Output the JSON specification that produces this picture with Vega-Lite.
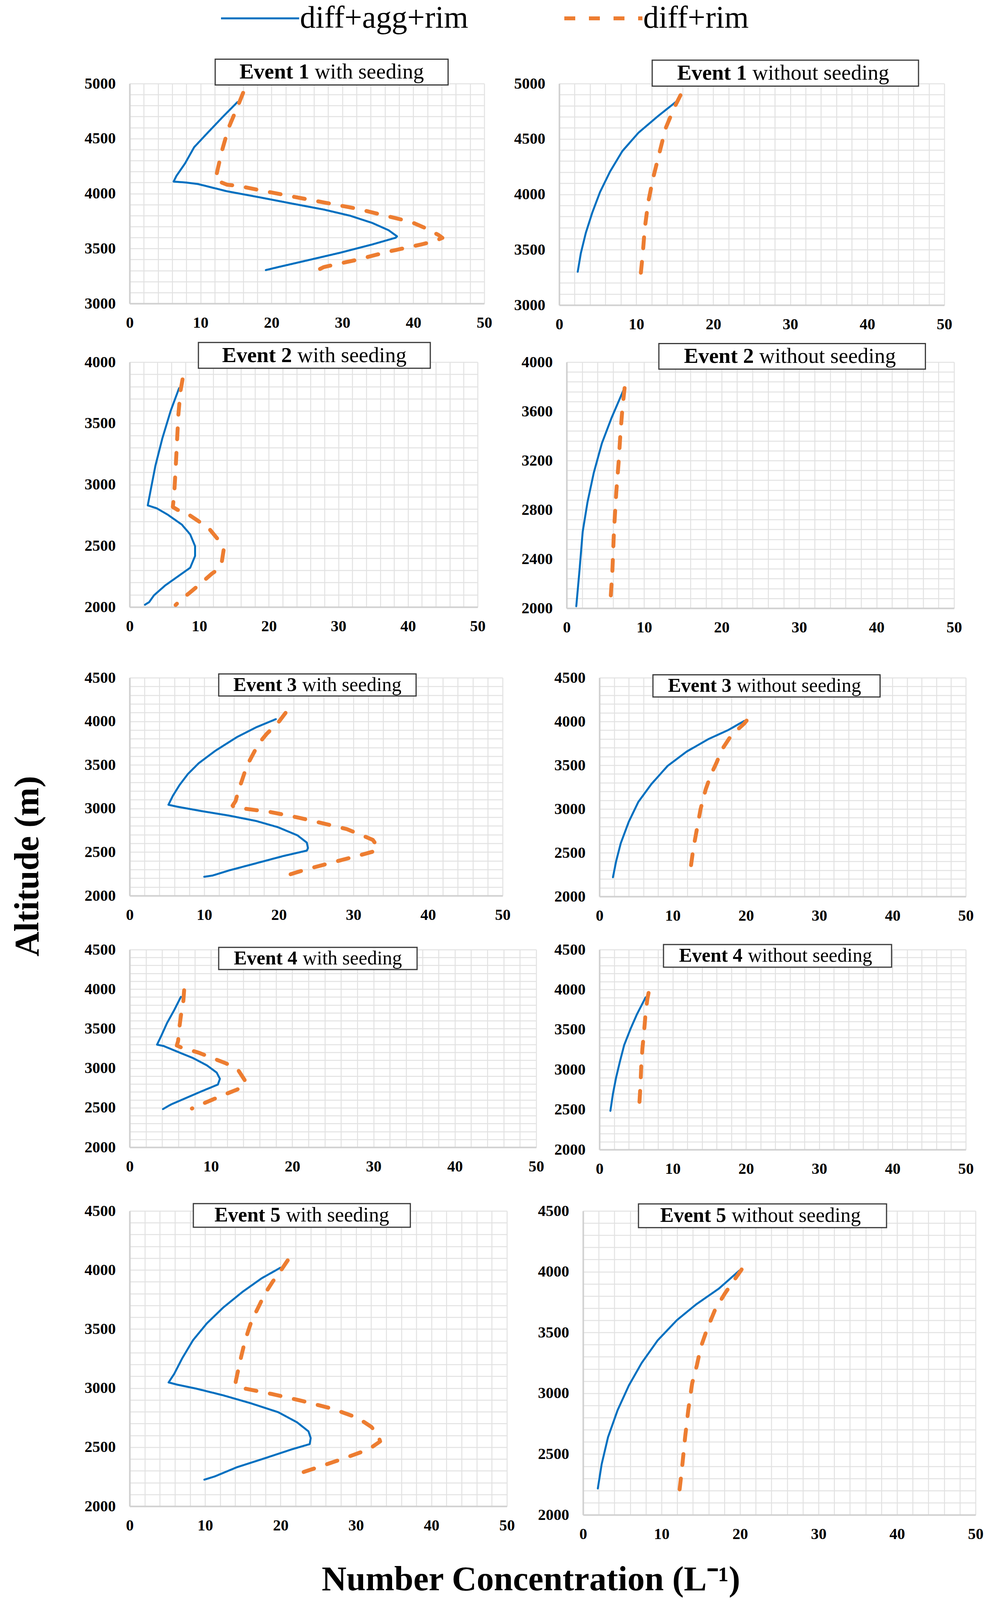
{
"$schema": "https://vega.github.io/schema/vega-lite/v6.json",
"padding": {"left": 28, "top": 7, "right": 0, "bottom": 150},
"background": "white",
"title": {"text": "Altitude (m)", "orient": "left", "anchor": "middle", "font": "Liberation Serif", "fontWeight": "bold", "fontSize": 88, "color": "#000000", "offset": 100, "dx": -170},
"config": {
  "font": "Liberation Serif",
  "view": {"stroke": null},
  "axis": {"grid": true, "gridColor": "#e2e2e2", "gridWidth": 2.5, "domain": true, "domainColor": "#d0d0d0", "domainWidth": 4, "ticks": false, "tickSize": 0, "labelFont": "Liberation Serif", "labelFontWeight": "bold", "labelFontSize": 40, "labelColor": "#000000", "labelFlush": false, "labelOverlap": false, "labelBound": false},
  "axisX": {"labelPadding": 29},
  "axisY": {"labelPadding": 36},
  "legend": {"orient": "none", "legendX": 294, "legendY": -207, "direction": "horizontal", "labelFont": "Liberation Serif", "labelFontSize": 80, "labelColor": "#000000", "labelLimit": 0, "symbolType": "M-4,0H4", "symbolSize": 2500, "labelOffset": 62, "columnPadding": 226, "padding": 0}
},
"datasets": {
  "titles": [
    {"panel": "E1S", "event": "Event 1", "cond": "with seeding"},
    {"panel": "E1N", "event": "Event 1", "cond": "without seeding"},
    {"panel": "E2S", "event": "Event 2", "cond": "with seeding"},
    {"panel": "E2N", "event": "Event 2", "cond": "without seeding"},
    {"panel": "E3S", "event": "Event 3", "cond": "with seeding"},
    {"panel": "E3N", "event": "Event 3", "cond": "without seeding"},
    {"panel": "E4S", "event": "Event 4", "cond": "with seeding"},
    {"panel": "E4N", "event": "Event 4", "cond": "without seeding"},
    {"panel": "E5S", "event": "Event 5", "cond": "with seeding"},
    {"panel": "E5N", "event": "Event 5", "cond": "without seeding"}
  ],
  "profiles": [
    {"panel":"E1S","series":"diff+agg+rim","conc":15.2,"alt":4832},
    {"panel":"E1S","series":"diff+agg+rim","conc":13.2,"alt":4702},
    {"panel":"E1S","series":"diff+agg+rim","conc":11.0,"alt":4553},
    {"panel":"E1S","series":"diff+agg+rim","conc":9.1,"alt":4422},
    {"panel":"E1S","series":"diff+agg+rim","conc":7.8,"alt":4273},
    {"panel":"E1S","series":"diff+agg+rim","conc":6.6,"alt":4161},
    {"panel":"E1S","series":"diff+agg+rim","conc":6.2,"alt":4109},
    {"panel":"E1S","series":"diff+agg+rim","conc":8.0,"alt":4100},
    {"panel":"E1S","series":"diff+agg+rim","conc":9.6,"alt":4087},
    {"panel":"E1S","series":"diff+agg+rim","conc":13.7,"alt":4021},
    {"panel":"E1S","series":"diff+agg+rim","conc":18.3,"alt":3966},
    {"panel":"E1S","series":"diff+agg+rim","conc":22.8,"alt":3910},
    {"panel":"E1S","series":"diff+agg+rim","conc":27.4,"alt":3854},
    {"panel":"E1S","series":"diff+agg+rim","conc":31.1,"alt":3798},
    {"panel":"E1S","series":"diff+agg+rim","conc":34.2,"alt":3733},
    {"panel":"E1S","series":"diff+agg+rim","conc":36.5,"alt":3667},
    {"panel":"E1S","series":"diff+agg+rim","conc":37.7,"alt":3611},
    {"panel":"E1S","series":"diff+agg+rim","conc":37.5,"alt":3598},
    {"panel":"E1S","series":"diff+agg+rim","conc":34.2,"alt":3537},
    {"panel":"E1S","series":"diff+agg+rim","conc":29.7,"alt":3462},
    {"panel":"E1S","series":"diff+agg+rim","conc":25.1,"alt":3393},
    {"panel":"E1S","series":"diff+agg+rim","conc":21.0,"alt":3332},
    {"panel":"E1S","series":"diff+agg+rim","conc":19.2,"alt":3304},
    {"panel":"E1S","series":"diff+rim","conc":16.0,"alt":4916},
    {"panel":"E1S","series":"diff+rim","conc":15.3,"alt":4804},
    {"panel":"E1S","series":"diff+rim","conc":13.9,"alt":4590},
    {"panel":"E1S","series":"diff+rim","conc":13.0,"alt":4385},
    {"panel":"E1S","series":"diff+rim","conc":12.4,"alt":4217},
    {"panel":"E1S","series":"diff+rim","conc":12.1,"alt":4124},
    {"panel":"E1S","series":"diff+rim","conc":13.7,"alt":4081},
    {"panel":"E1S","series":"diff+rim","conc":15.5,"alt":4068},
    {"panel":"E1S","series":"diff+rim","conc":18.3,"alt":4031},
    {"panel":"E1S","series":"diff+rim","conc":22.8,"alt":3975},
    {"panel":"E1S","series":"diff+rim","conc":27.4,"alt":3919},
    {"panel":"E1S","series":"diff+rim","conc":32.0,"alt":3863},
    {"panel":"E1S","series":"diff+rim","conc":36.5,"alt":3792},
    {"panel":"E1S","series":"diff+rim","conc":39.7,"alt":3742},
    {"panel":"E1S","series":"diff+rim","conc":42.0,"alt":3677},
    {"panel":"E1S","series":"diff+rim","conc":43.6,"alt":3621},
    {"panel":"E1S","series":"diff+rim","conc":44.1,"alt":3597},
    {"panel":"E1S","series":"diff+rim","conc":42.9,"alt":3565},
    {"panel":"E1S","series":"diff+rim","conc":41.1,"alt":3537},
    {"panel":"E1S","series":"diff+rim","conc":36.5,"alt":3472},
    {"panel":"E1S","series":"diff+rim","conc":32.0,"alt":3397},
    {"panel":"E1S","series":"diff+rim","conc":27.4,"alt":3332},
    {"panel":"E1S","series":"diff+rim","conc":26.5,"alt":3304},
    {"panel":"E1N","series":"diff+agg+rim","conc":2.4,"alt":3301},
    {"panel":"E1N","series":"diff+agg+rim","conc":2.8,"alt":3467},
    {"panel":"E1N","series":"diff+agg+rim","conc":3.45,"alt":3652},
    {"panel":"E1N","series":"diff+agg+rim","conc":4.3,"alt":3837},
    {"panel":"E1N","series":"diff+agg+rim","conc":5.3,"alt":4021},
    {"panel":"E1N","series":"diff+agg+rim","conc":6.6,"alt":4206},
    {"panel":"E1N","series":"diff+agg+rim","conc":8.2,"alt":4391},
    {"panel":"E1N","series":"diff+agg+rim","conc":10.3,"alt":4557},
    {"panel":"E1N","series":"diff+agg+rim","conc":12.8,"alt":4705},
    {"panel":"E1N","series":"diff+agg+rim","conc":15.3,"alt":4843},
    {"panel":"E1N","series":"diff+rim","conc":10.6,"alt":3292},
    {"panel":"E1N","series":"diff+rim","conc":10.85,"alt":3467},
    {"panel":"E1N","series":"diff+rim","conc":11.1,"alt":3689},
    {"panel":"E1N","series":"diff+rim","conc":11.55,"alt":3929},
    {"panel":"E1N","series":"diff+rim","conc":12.2,"alt":4150},
    {"panel":"E1N","series":"diff+rim","conc":13.0,"alt":4372},
    {"panel":"E1N","series":"diff+rim","conc":13.8,"alt":4594},
    {"panel":"E1N","series":"diff+rim","conc":14.9,"alt":4778},
    {"panel":"E1N","series":"diff+rim","conc":15.9,"alt":4917},
    {"panel":"E2S","series":"diff+agg+rim","conc":7.1,"alt":3787},
    {"panel":"E2S","series":"diff+agg+rim","conc":5.9,"alt":3603},
    {"panel":"E2S","series":"diff+agg+rim","conc":4.7,"alt":3378},
    {"panel":"E2S","series":"diff+agg+rim","conc":3.7,"alt":3154},
    {"panel":"E2S","series":"diff+agg+rim","conc":3.1,"alt":2978},
    {"panel":"E2S","series":"diff+agg+rim","conc":2.6,"alt":2830},
    {"panel":"E2S","series":"diff+agg+rim","conc":3.9,"alt":2806},
    {"panel":"E2S","series":"diff+agg+rim","conc":5.5,"alt":2753},
    {"panel":"E2S","series":"diff+agg+rim","conc":7.5,"alt":2673},
    {"panel":"E2S","series":"diff+agg+rim","conc":8.7,"alt":2593},
    {"panel":"E2S","series":"diff+agg+rim","conc":9.4,"alt":2497},
    {"panel":"E2S","series":"diff+agg+rim","conc":9.4,"alt":2417},
    {"panel":"E2S","series":"diff+agg+rim","conc":8.7,"alt":2321},
    {"panel":"E2S","series":"diff+agg+rim","conc":5.1,"alt":2176},
    {"panel":"E2S","series":"diff+agg+rim","conc":3.5,"alt":2096},
    {"panel":"E2S","series":"diff+agg+rim","conc":2.8,"alt":2040},
    {"panel":"E2S","series":"diff+agg+rim","conc":2.2,"alt":2019},
    {"panel":"E2S","series":"diff+rim","conc":7.6,"alt":3859},
    {"panel":"E2S","series":"diff+rim","conc":7.3,"alt":3763},
    {"panel":"E2S","series":"diff+rim","conc":7.0,"alt":3571},
    {"panel":"E2S","series":"diff+rim","conc":6.8,"alt":3346},
    {"panel":"E2S","series":"diff+rim","conc":6.6,"alt":3122},
    {"panel":"E2S","series":"diff+rim","conc":6.4,"alt":2921},
    {"panel":"E2S","series":"diff+rim","conc":6.2,"alt":2817},
    {"panel":"E2S","series":"diff+rim","conc":6.9,"alt":2793},
    {"panel":"E2S","series":"diff+rim","conc":7.9,"alt":2777},
    {"panel":"E2S","series":"diff+rim","conc":9.8,"alt":2705},
    {"panel":"E2S","series":"diff+rim","conc":11.4,"alt":2641},
    {"panel":"E2S","series":"diff+rim","conc":12.8,"alt":2545},
    {"panel":"E2S","series":"diff+rim","conc":13.5,"alt":2465},
    {"panel":"E2S","series":"diff+rim","conc":13.2,"alt":2353},
    {"panel":"E2S","series":"diff+rim","conc":12.6,"alt":2304},
    {"panel":"E2S","series":"diff+rim","conc":11.8,"alt":2272},
    {"panel":"E2S","series":"diff+rim","conc":10.2,"alt":2192},
    {"panel":"E2S","series":"diff+rim","conc":8.7,"alt":2120},
    {"panel":"E2S","series":"diff+rim","conc":7.3,"alt":2056},
    {"panel":"E2S","series":"diff+rim","conc":6.6,"alt":2016},
    {"panel":"E2N","series":"diff+agg+rim","conc":1.24,"alt":2016},
    {"panel":"E2N","series":"diff+agg+rim","conc":1.65,"alt":2303},
    {"panel":"E2N","series":"diff+agg+rim","conc":2.07,"alt":2622},
    {"panel":"E2N","series":"diff+agg+rim","conc":2.69,"alt":2862},
    {"panel":"E2N","series":"diff+agg+rim","conc":3.5,"alt":3101},
    {"panel":"E2N","series":"diff+agg+rim","conc":4.55,"alt":3341},
    {"panel":"E2N","series":"diff+agg+rim","conc":5.8,"alt":3548},
    {"panel":"E2N","series":"diff+agg+rim","conc":7.44,"alt":3788},
    {"panel":"E2N","series":"diff+rim","conc":5.7,"alt":2104},
    {"panel":"E2N","series":"diff+rim","conc":5.9,"alt":2303},
    {"panel":"E2N","series":"diff+rim","conc":6.1,"alt":2622},
    {"panel":"E2N","series":"diff+rim","conc":6.4,"alt":2941},
    {"panel":"E2N","series":"diff+rim","conc":6.7,"alt":3181},
    {"panel":"E2N","series":"diff+rim","conc":6.94,"alt":3420},
    {"panel":"E2N","series":"diff+rim","conc":7.2,"alt":3628},
    {"panel":"E2N","series":"diff+rim","conc":7.6,"alt":3860},
    {"panel":"E3S","series":"diff+agg+rim","conc":19.6,"alt":4025},
    {"panel":"E3S","series":"diff+agg+rim","conc":17.0,"alt":3933},
    {"panel":"E3S","series":"diff+agg+rim","conc":14.4,"alt":3820},
    {"panel":"E3S","series":"diff+agg+rim","conc":11.5,"alt":3663},
    {"panel":"E3S","series":"diff+agg+rim","conc":9.25,"alt":3519},
    {"panel":"E3S","series":"diff+agg+rim","conc":7.8,"alt":3395},
    {"panel":"E3S","series":"diff+agg+rim","conc":6.7,"alt":3271},
    {"panel":"E3S","series":"diff+agg+rim","conc":5.8,"alt":3147},
    {"panel":"E3S","series":"diff+agg+rim","conc":5.2,"alt":3043},
    {"panel":"E3S","series":"diff+agg+rim","conc":6.3,"alt":3022},
    {"panel":"E3S","series":"diff+agg+rim","conc":9.6,"alt":2971},
    {"panel":"E3S","series":"diff+agg+rim","conc":13.3,"alt":2919},
    {"panel":"E3S","series":"diff+agg+rim","conc":16.96,"alt":2857},
    {"panel":"E3S","series":"diff+agg+rim","conc":19.9,"alt":2785},
    {"panel":"E3S","series":"diff+agg+rim","conc":22.5,"alt":2692},
    {"panel":"E3S","series":"diff+agg+rim","conc":23.75,"alt":2609},
    {"panel":"E3S","series":"diff+agg+rim","conc":23.9,"alt":2547},
    {"panel":"E3S","series":"diff+agg+rim","conc":23.75,"alt":2517},
    {"panel":"E3S","series":"diff+agg+rim","conc":20.6,"alt":2455},
    {"panel":"E3S","series":"diff+agg+rim","conc":16.96,"alt":2372},
    {"panel":"E3S","series":"diff+agg+rim","conc":13.3,"alt":2289},
    {"panel":"E3S","series":"diff+agg+rim","conc":11.1,"alt":2231},
    {"panel":"E3S","series":"diff+agg+rim","conc":10.0,"alt":2217},
    {"panel":"E3S","series":"diff+rim","conc":20.9,"alt":4097},
    {"panel":"E3S","series":"diff+rim","conc":19.9,"alt":3983},
    {"panel":"E3S","series":"diff+rim","conc":18.4,"alt":3859},
    {"panel":"E3S","series":"diff+rim","conc":17.3,"alt":3746},
    {"panel":"E3S","series":"diff+rim","conc":16.4,"alt":3601},
    {"panel":"E3S","series":"diff+rim","conc":15.7,"alt":3488},
    {"panel":"E3S","series":"diff+rim","conc":15.1,"alt":3333},
    {"panel":"E3S","series":"diff+rim","conc":14.6,"alt":3209},
    {"panel":"E3S","series":"diff+rim","conc":14.2,"alt":3085},
    {"panel":"E3S","series":"diff+rim","conc":13.8,"alt":3033},
    {"panel":"E3S","series":"diff+rim","conc":14.0,"alt":3012},
    {"panel":"E3S","series":"diff+rim","conc":15.1,"alt":3002},
    {"panel":"E3S","series":"diff+rim","conc":18.8,"alt":2961},
    {"panel":"E3S","series":"diff+rim","conc":22.5,"alt":2898},
    {"panel":"E3S","series":"diff+rim","conc":26.1,"alt":2826},
    {"panel":"E3S","series":"diff+rim","conc":29.1,"alt":2764},
    {"panel":"E3S","series":"diff+rim","conc":30.9,"alt":2702},
    {"panel":"E3S","series":"diff+rim","conc":32.6,"alt":2640},
    {"panel":"E3S","series":"diff+rim","conc":33.2,"alt":2568},
    {"panel":"E3S","series":"diff+rim","conc":33.1,"alt":2517},
    {"panel":"E3S","series":"diff+rim","conc":30.9,"alt":2465},
    {"panel":"E3S","series":"diff+rim","conc":27.2,"alt":2382},
    {"panel":"E3S","series":"diff+rim","conc":23.6,"alt":2300},
    {"panel":"E3S","series":"diff+rim","conc":21.4,"alt":2242},
    {"panel":"E3N","series":"diff+agg+rim","conc":1.84,"alt":2220},
    {"panel":"E3N","series":"diff+agg+rim","conc":2.27,"alt":2401},
    {"panel":"E3N","series":"diff+agg+rim","conc":2.9,"alt":2607},
    {"panel":"E3N","series":"diff+agg+rim","conc":4.0,"alt":2854},
    {"panel":"E3N","series":"diff+agg+rim","conc":5.3,"alt":3080},
    {"panel":"E3N","series":"diff+agg+rim","conc":7.1,"alt":3286},
    {"panel":"E3N","series":"diff+agg+rim","conc":9.3,"alt":3492},
    {"panel":"E3N","series":"diff+agg+rim","conc":11.9,"alt":3656},
    {"panel":"E3N","series":"diff+agg+rim","conc":14.9,"alt":3800},
    {"panel":"E3N","series":"diff+agg+rim","conc":17.6,"alt":3903},
    {"panel":"E3N","series":"diff+agg+rim","conc":19.75,"alt":4006},
    {"panel":"E3N","series":"diff+rim","conc":12.5,"alt":2358},
    {"panel":"E3N","series":"diff+rim","conc":12.8,"alt":2543},
    {"panel":"E3N","series":"diff+rim","conc":13.3,"alt":2770},
    {"panel":"E3N","series":"diff+rim","conc":13.8,"alt":2998},
    {"panel":"E3N","series":"diff+rim","conc":14.5,"alt":3224},
    {"panel":"E3N","series":"diff+rim","conc":15.2,"alt":3389},
    {"panel":"E3N","series":"diff+rim","conc":16.0,"alt":3533},
    {"panel":"E3N","series":"diff+rim","conc":16.7,"alt":3677},
    {"panel":"E3N","series":"diff+rim","conc":18.0,"alt":3842},
    {"panel":"E3N","series":"diff+rim","conc":19.75,"alt":3976},
    {"panel":"E3N","series":"diff+rim","conc":20.8,"alt":4084},
    {"panel":"E4S","series":"diff+agg+rim","conc":6.3,"alt":3902},
    {"panel":"E4S","series":"diff+agg+rim","conc":5.46,"alt":3731},
    {"panel":"E4S","series":"diff+agg+rim","conc":4.6,"alt":3572},
    {"panel":"E4S","series":"diff+agg+rim","conc":3.9,"alt":3412},
    {"panel":"E4S","series":"diff+agg+rim","conc":3.37,"alt":3298},
    {"panel":"E4S","series":"diff+agg+rim","conc":4.2,"alt":3280},
    {"panel":"E4S","series":"diff+agg+rim","conc":5.8,"alt":3212},
    {"panel":"E4S","series":"diff+agg+rim","conc":7.8,"alt":3128},
    {"panel":"E4S","series":"diff+agg+rim","conc":9.5,"alt":3036},
    {"panel":"E4S","series":"diff+agg+rim","conc":10.7,"alt":2945},
    {"panel":"E4S","series":"diff+agg+rim","conc":11.1,"alt":2866},
    {"panel":"E4S","series":"diff+agg+rim","conc":10.85,"alt":2793},
    {"panel":"E4S","series":"diff+agg+rim","conc":8.8,"alt":2706},
    {"panel":"E4S","series":"diff+agg+rim","conc":6.5,"alt":2604},
    {"panel":"E4S","series":"diff+agg+rim","conc":5.1,"alt":2542},
    {"panel":"E4S","series":"diff+agg+rim","conc":4.1,"alt":2483},
    {"panel":"E4S","series":"diff+rim","conc":6.7,"alt":3986},
    {"panel":"E4S","series":"diff+rim","conc":6.6,"alt":3845},
    {"panel":"E4S","series":"diff+rim","conc":6.3,"alt":3663},
    {"panel":"E4S","series":"diff+rim","conc":6.1,"alt":3503},
    {"panel":"E4S","series":"diff+rim","conc":5.96,"alt":3344},
    {"panel":"E4S","series":"diff+rim","conc":5.8,"alt":3287},
    {"panel":"E4S","series":"diff+rim","conc":6.3,"alt":3264},
    {"panel":"E4S","series":"diff+rim","conc":8.5,"alt":3196},
    {"panel":"E4S","series":"diff+rim","conc":10.2,"alt":3128},
    {"panel":"E4S","series":"diff+rim","conc":11.9,"alt":3059},
    {"panel":"E4S","series":"diff+rim","conc":13.4,"alt":2968},
    {"panel":"E4S","series":"diff+rim","conc":14.3,"alt":2825},
    {"panel":"E4S","series":"diff+rim","conc":14.05,"alt":2779},
    {"panel":"E4S","series":"diff+rim","conc":13.2,"alt":2729},
    {"panel":"E4S","series":"diff+rim","conc":11.4,"alt":2656},
    {"panel":"E4S","series":"diff+rim","conc":9.7,"alt":2581},
    {"panel":"E4S","series":"diff+rim","conc":7.65,"alt":2490},
    {"panel":"E4N","series":"diff+agg+rim","conc":1.49,"alt":2484},
    {"panel":"E4N","series":"diff+agg+rim","conc":1.84,"alt":2698},
    {"panel":"E4N","series":"diff+agg+rim","conc":2.27,"alt":2901},
    {"panel":"E4N","series":"diff+agg+rim","conc":2.8,"alt":3104},
    {"panel":"E4N","series":"diff+agg+rim","conc":3.37,"alt":3306},
    {"panel":"E4N","series":"diff+agg+rim","conc":4.24,"alt":3509},
    {"panel":"E4N","series":"diff+agg+rim","conc":5.1,"alt":3689},
    {"panel":"E4N","series":"diff+agg+rim","conc":6.3,"alt":3903},
    {"panel":"E4N","series":"diff+rim","conc":5.46,"alt":2597},
    {"panel":"E4N","series":"diff+rim","conc":5.6,"alt":2811},
    {"panel":"E4N","series":"diff+rim","conc":5.7,"alt":3036},
    {"panel":"E4N","series":"diff+rim","conc":5.86,"alt":3261},
    {"panel":"E4N","series":"diff+rim","conc":6.1,"alt":3486},
    {"panel":"E4N","series":"diff+rim","conc":6.3,"alt":3712},
    {"panel":"E4N","series":"diff+rim","conc":6.55,"alt":3892},
    {"panel":"E4N","series":"diff+rim","conc":6.8,"alt":4000},
    {"panel":"E5S","series":"diff+agg+rim","conc":19.97,"alt":4019},
    {"panel":"E5S","series":"diff+agg+rim","conc":17.5,"alt":3930},
    {"panel":"E5S","series":"diff+agg+rim","conc":14.96,"alt":3815},
    {"panel":"E5S","series":"diff+agg+rim","conc":12.4,"alt":3682},
    {"panel":"E5S","series":"diff+agg+rim","conc":10.24,"alt":3549},
    {"panel":"E5S","series":"diff+agg+rim","conc":8.4,"alt":3406},
    {"panel":"E5S","series":"diff+agg+rim","conc":6.97,"alt":3253},
    {"panel":"E5S","series":"diff+agg+rim","conc":5.9,"alt":3120},
    {"panel":"E5S","series":"diff+agg+rim","conc":5.16,"alt":3048},
    {"panel":"E5S","series":"diff+agg+rim","conc":6.25,"alt":3030},
    {"panel":"E5S","series":"diff+agg+rim","conc":8.8,"alt":2996},
    {"panel":"E5S","series":"diff+agg+rim","conc":12.4,"alt":2939},
    {"panel":"E5S","series":"diff+agg+rim","conc":16.05,"alt":2872},
    {"panel":"E5S","series":"diff+agg+rim","conc":19.7,"alt":2796},
    {"panel":"E5S","series":"diff+agg+rim","conc":22.2,"alt":2710},
    {"panel":"E5S","series":"diff+agg+rim","conc":23.7,"alt":2634},
    {"panel":"E5S","series":"diff+agg+rim","conc":24.0,"alt":2577},
    {"panel":"E5S","series":"diff+agg+rim","conc":23.86,"alt":2526},
    {"panel":"E5S","series":"diff+agg+rim","conc":21.5,"alt":2482},
    {"panel":"E5S","series":"diff+agg+rim","conc":17.9,"alt":2406},
    {"panel":"E5S","series":"diff+agg+rim","conc":14.2,"alt":2330},
    {"panel":"E5S","series":"diff+agg+rim","conc":11.3,"alt":2253},
    {"panel":"E5S","series":"diff+agg+rim","conc":9.9,"alt":2225},
    {"panel":"E5S","series":"diff+rim","conc":20.95,"alt":4082},
    {"panel":"E5S","series":"diff+rim","conc":20.04,"alt":3996},
    {"panel":"E5S","series":"diff+rim","conc":18.95,"alt":3901},
    {"panel":"E5S","series":"diff+rim","conc":17.9,"alt":3796},
    {"panel":"E5S","series":"diff+rim","conc":16.96,"alt":3672},
    {"panel":"E5S","series":"diff+rim","conc":16.2,"alt":3577},
    {"panel":"E5S","series":"diff+rim","conc":15.7,"alt":3482},
    {"panel":"E5S","series":"diff+rim","conc":15.2,"alt":3377},
    {"panel":"E5S","series":"diff+rim","conc":14.8,"alt":3272},
    {"panel":"E5S","series":"diff+rim","conc":14.4,"alt":3158},
    {"panel":"E5S","series":"diff+rim","conc":14.05,"alt":3053},
    {"panel":"E5S","series":"diff+rim","conc":14.2,"alt":3015},
    {"panel":"E5S","series":"diff+rim","conc":15.3,"alt":2996},
    {"panel":"E5S","series":"diff+rim","conc":18.95,"alt":2949},
    {"panel":"E5S","series":"diff+rim","conc":22.9,"alt":2891},
    {"panel":"E5S","series":"diff+rim","conc":26.9,"alt":2825},
    {"panel":"E5S","series":"diff+rim","conc":30.2,"alt":2749},
    {"panel":"E5S","series":"diff+rim","conc":32.03,"alt":2672},
    {"panel":"E5S","series":"diff+rim","conc":32.9,"alt":2606},
    {"panel":"E5S","series":"diff+rim","conc":33.2,"alt":2549},
    {"panel":"E5S","series":"diff+rim","conc":31.7,"alt":2482},
    {"panel":"E5S","series":"diff+rim","conc":28.0,"alt":2396},
    {"panel":"E5S","series":"diff+rim","conc":24.0,"alt":2310},
    {"panel":"E5S","series":"diff+rim","conc":22.0,"alt":2267},
    {"panel":"E5N","series":"diff+agg+rim","conc":1.88,"alt":2217},
    {"panel":"E5N","series":"diff+agg+rim","conc":2.37,"alt":2417},
    {"panel":"E5N","series":"diff+agg+rim","conc":3.18,"alt":2639},
    {"panel":"E5N","series":"diff+agg+rim","conc":4.4,"alt":2861},
    {"panel":"E5N","series":"diff+agg+rim","conc":5.84,"alt":3065},
    {"panel":"E5N","series":"diff+agg+rim","conc":7.47,"alt":3250},
    {"panel":"E5N","series":"diff+agg+rim","conc":9.5,"alt":3435},
    {"panel":"E5N","series":"diff+agg+rim","conc":11.96,"alt":3602},
    {"panel":"E5N","series":"diff+agg+rim","conc":14.4,"alt":3731},
    {"panel":"E5N","series":"diff+agg+rim","conc":17.3,"alt":3861},
    {"panel":"E5N","series":"diff+agg+rim","conc":19.9,"alt":4009},
    {"panel":"E5N","series":"diff+rim","conc":12.3,"alt":2209},
    {"panel":"E5N","series":"diff+rim","conc":12.6,"alt":2380},
    {"panel":"E5N","series":"diff+rim","conc":13.0,"alt":2639},
    {"panel":"E5N","series":"diff+rim","conc":13.4,"alt":2861},
    {"panel":"E5N","series":"diff+rim","conc":13.9,"alt":3083},
    {"panel":"E5N","series":"diff+rim","conc":14.5,"alt":3231},
    {"panel":"E5N","series":"diff+rim","conc":15.0,"alt":3380},
    {"panel":"E5N","series":"diff+rim","conc":15.8,"alt":3528},
    {"panel":"E5N","series":"diff+rim","conc":16.86,"alt":3694},
    {"panel":"E5N","series":"diff+rim","conc":18.1,"alt":3824},
    {"panel":"E5N","series":"diff+rim","conc":19.9,"alt":3991},
    {"panel":"E5N","series":"diff+rim","conc":20.9,"alt":4083}
  ]
},
"spacing": 67,
"vconcat": [
 {"spacing": 89, "vconcat": [
  {"spacing": 25, "vconcat": [
   {"bounds": "flush", "spacing": 192, "hconcat": [
    {"width": 908, "height": 563, "layer": [
      {"data": {"name": "profiles"}, "transform": [{"filter": "datum.panel === 'E1S'"}],
       "mark": {"type": "line", "strokeCap": "round", "strokeJoin": "round"},
       "encoding": {
         "x": {"field": "conc", "type": "quantitative", "scale": {"domain": [0, 50], "nice": false, "zero": false}, "axis": {"title": null, "tickCount": 200, "labelOverlap": false, "format": "d", "values": [0,2,4,6,8,10,12,14,16,18,20,22,24,26,28,30,32,34,36,38,40,42,44,46,48,50], "labelExpr": "datum.value % 10 === 0 ? datum.label : ''"}},
         "y": {"field": "alt", "type": "quantitative", "scale": {"domain": [3000, 5000], "nice": false, "zero": false}, "axis": {"title": null, "tickCount": 200, "labelOverlap": false, "format": "d", "values": [3000,3100,3200,3300,3400,3500,3600,3700,3800,3900,4000,4100,4200,4300,4400,4500,4600,4700,4800,4900,5000], "labelExpr": "datum.value % 500 === 0 ? datum.label : ''"}},
         "color": {"field": "series", "type": "nominal", "scale": {"domain": ["diff+agg+rim", "diff+rim"], "range": ["#0070C0", "#ED7D31"]}, "legend": {"title": null}},
         "strokeDash": {"field": "series", "type": "nominal", "scale": {"domain": ["diff+agg+rim", "diff+rim"], "range": [[1, 0], [28, 35]]}, "legend": {"title": null}},
         "strokeWidth": {"field": "series", "type": "nominal", "scale": {"type": "point", "padding": 0, "domain": ["diff+agg+rim", "diff+rim"], "range": [5, 10]}, "legend": {"title": null}},
         "order": {"value": null}
       }},
      {"data": {"name": "titles"}, "transform": [{"filter": "datum.panel === 'E1S'"}],
       "mark": {"type": "rect", "fill": "white", "stroke": "#3a3a3a", "strokeWidth": 3},
       "encoding": {"x": {"datum": 12.06}, "x2": {"datum": 44.9}, "y": {"datum": 5222}, "y2": {"datum": 4988}}},
      {"data": {"name": "titles"}, "transform": [{"filter": "datum.panel === 'E1S'"}],
       "mark": {"type": "text", "align": "right", "baseline": "middle", "font": "Liberation Serif", "fontWeight": "bold", "fontSize": 55, "color": "#000000", "dx": -7},
       "encoding": {"x": {"datum": 25.71}, "y": {"datum": 5105}, "text": {"field": "event"}}},
      {"data": {"name": "titles"}, "transform": [{"filter": "datum.panel === 'E1S'"}],
       "mark": {"type": "text", "align": "left", "baseline": "middle", "font": "Liberation Serif", "fontWeight": "normal", "fontSize": 55, "color": "#000000", "dx": 7},
       "encoding": {"x": {"datum": 25.71}, "y": {"datum": 5105}, "text": {"field": "cond"}}}
    ]},
    {"width": 986, "height": 567, "layer": [
      {"data": {"name": "profiles"}, "transform": [{"filter": "datum.panel === 'E1N'"}],
       "mark": {"type": "line", "strokeCap": "round", "strokeJoin": "round"},
       "encoding": {
         "x": {"field": "conc", "type": "quantitative", "scale": {"domain": [0, 50], "nice": false, "zero": false}, "axis": {"title": null, "tickCount": 200, "labelOverlap": false, "format": "d", "values": [0,2,4,6,8,10,12,14,16,18,20,22,24,26,28,30,32,34,36,38,40,42,44,46,48,50], "labelExpr": "datum.value % 10 === 0 ? datum.label : ''"}},
         "y": {"field": "alt", "type": "quantitative", "scale": {"domain": [3000, 5000], "nice": false, "zero": false}, "axis": {"title": null, "tickCount": 200, "labelOverlap": false, "format": "d", "values": [3000,3100,3200,3300,3400,3500,3600,3700,3800,3900,4000,4100,4200,4300,4400,4500,4600,4700,4800,4900,5000], "labelExpr": "datum.value % 500 === 0 ? datum.label : ''"}},
         "color": {"field": "series", "type": "nominal", "scale": {"domain": ["diff+agg+rim", "diff+rim"], "range": ["#0070C0", "#ED7D31"]}, "legend": {"title": null}},
         "strokeDash": {"field": "series", "type": "nominal", "scale": {"domain": ["diff+agg+rim", "diff+rim"], "range": [[1, 0], [28, 35]]}, "legend": {"title": null}},
         "strokeWidth": {"field": "series", "type": "nominal", "scale": {"type": "point", "padding": 0, "domain": ["diff+agg+rim", "diff+rim"], "range": [5, 10]}, "legend": {"title": null}},
         "order": {"value": null}
       }},
      {"data": {"name": "titles"}, "transform": [{"filter": "datum.panel === 'E1N'"}],
       "mark": {"type": "rect", "fill": "white", "stroke": "#3a3a3a", "strokeWidth": 3},
       "encoding": {"x": {"datum": 12.07}, "x2": {"datum": 46.65}, "y": {"datum": 5212}, "y2": {"datum": 4977}}},
      {"data": {"name": "titles"}, "transform": [{"filter": "datum.panel === 'E1N'"}],
       "mark": {"type": "text", "align": "right", "baseline": "middle", "font": "Liberation Serif", "fontWeight": "bold", "fontSize": 55, "color": "#000000", "dx": -7},
       "encoding": {"x": {"datum": 24.74}, "y": {"datum": 5094}, "text": {"field": "event"}}},
      {"data": {"name": "titles"}, "transform": [{"filter": "datum.panel === 'E1N'"}],
       "mark": {"type": "text", "align": "left", "baseline": "middle", "font": "Liberation Serif", "fontWeight": "normal", "fontSize": 55, "color": "#000000", "dx": 7},
       "encoding": {"x": {"datum": 24.74}, "y": {"datum": 5094}, "text": {"field": "cond"}}}
    ]}
   ]},
   {"bounds": "flush", "spacing": 228, "hconcat": [
    {"width": 891, "height": 627, "layer": [
      {"data": {"name": "profiles"}, "transform": [{"filter": "datum.panel === 'E2S'"}],
       "mark": {"type": "line", "strokeCap": "round", "strokeJoin": "round"},
       "encoding": {
         "x": {"field": "conc", "type": "quantitative", "scale": {"domain": [0, 50], "nice": false, "zero": false}, "axis": {"title": null, "tickCount": 200, "labelOverlap": false, "format": "d", "values": [0,2,4,6,8,10,12,14,16,18,20,22,24,26,28,30,32,34,36,38,40,42,44,46,48,50], "labelExpr": "datum.value % 10 === 0 ? datum.label : ''"}},
         "y": {"field": "alt", "type": "quantitative", "scale": {"domain": [2000, 4000], "nice": false, "zero": false}, "axis": {"title": null, "tickCount": 200, "labelOverlap": false, "format": "d", "values": [2000,2100,2200,2300,2400,2500,2600,2700,2800,2900,3000,3100,3200,3300,3400,3500,3600,3700,3800,3900,4000], "labelExpr": "datum.value % 500 === 0 ? datum.label : ''"}},
         "color": {"field": "series", "type": "nominal", "scale": {"domain": ["diff+agg+rim", "diff+rim"], "range": ["#0070C0", "#ED7D31"]}, "legend": {"title": null}},
         "strokeDash": {"field": "series", "type": "nominal", "scale": {"domain": ["diff+agg+rim", "diff+rim"], "range": [[1, 0], [28, 35]]}, "legend": {"title": null}},
         "strokeWidth": {"field": "series", "type": "nominal", "scale": {"type": "point", "padding": 0, "domain": ["diff+agg+rim", "diff+rim"], "range": [5, 10]}, "legend": {"title": null}},
         "order": {"value": null}
       }},
      {"data": {"name": "titles"}, "transform": [{"filter": "datum.panel === 'E2S'"}],
       "mark": {"type": "rect", "fill": "white", "stroke": "#3a3a3a", "strokeWidth": 3},
       "encoding": {"x": {"datum": 9.88}, "x2": {"datum": 43.2}, "y": {"datum": 4160}, "y2": {"datum": 3950}}},
      {"data": {"name": "titles"}, "transform": [{"filter": "datum.panel === 'E2S'"}],
       "mark": {"type": "text", "align": "right", "baseline": "middle", "font": "Liberation Serif", "fontWeight": "bold", "fontSize": 55, "color": "#000000", "dx": -7},
       "encoding": {"x": {"datum": 23.71}, "y": {"datum": 4055}, "text": {"field": "event"}}},
      {"data": {"name": "titles"}, "transform": [{"filter": "datum.panel === 'E2S'"}],
       "mark": {"type": "text", "align": "left", "baseline": "middle", "font": "Liberation Serif", "fontWeight": "normal", "fontSize": 55, "color": "#000000", "dx": 7},
       "encoding": {"x": {"datum": 23.71}, "y": {"datum": 4055}, "text": {"field": "cond"}}}
    ]},
    {"width": 992, "height": 630, "layer": [
      {"data": {"name": "profiles"}, "transform": [{"filter": "datum.panel === 'E2N'"}],
       "mark": {"type": "line", "strokeCap": "round", "strokeJoin": "round"},
       "encoding": {
         "x": {"field": "conc", "type": "quantitative", "scale": {"domain": [0, 50], "nice": false, "zero": false}, "axis": {"title": null, "tickCount": 200, "labelOverlap": false, "format": "d", "values": [0,2,4,6,8,10,12,14,16,18,20,22,24,26,28,30,32,34,36,38,40,42,44,46,48,50], "labelExpr": "datum.value % 10 === 0 ? datum.label : ''"}},
         "y": {"field": "alt", "type": "quantitative", "scale": {"domain": [2000, 4000], "nice": false, "zero": false}, "axis": {"title": null, "tickCount": 200, "labelOverlap": false, "format": "d", "values": [2000,2080,2160,2240,2320,2400,2480,2560,2640,2720,2800,2880,2960,3040,3120,3200,3280,3360,3440,3520,3600,3680,3760,3840,3920,4000], "labelExpr": "datum.value % 400 === 0 ? datum.label : ''"}},
         "color": {"field": "series", "type": "nominal", "scale": {"domain": ["diff+agg+rim", "diff+rim"], "range": ["#0070C0", "#ED7D31"]}, "legend": {"title": null}},
         "strokeDash": {"field": "series", "type": "nominal", "scale": {"domain": ["diff+agg+rim", "diff+rim"], "range": [[1, 0], [28, 35]]}, "legend": {"title": null}},
         "strokeWidth": {"field": "series", "type": "nominal", "scale": {"type": "point", "padding": 0, "domain": ["diff+agg+rim", "diff+rim"], "range": [5, 10]}, "legend": {"title": null}},
         "order": {"value": null}
       }},
      {"data": {"name": "titles"}, "transform": [{"filter": "datum.panel === 'E2N'"}],
       "mark": {"type": "rect", "fill": "white", "stroke": "#3a3a3a", "strokeWidth": 3},
       "encoding": {"x": {"datum": 11.9}, "x2": {"datum": 46.3}, "y": {"datum": 4151}, "y2": {"datum": 3943}}},
      {"data": {"name": "titles"}, "transform": [{"filter": "datum.panel === 'E2N'"}],
       "mark": {"type": "text", "align": "right", "baseline": "middle", "font": "Liberation Serif", "fontWeight": "bold", "fontSize": 55, "color": "#000000", "dx": -7},
       "encoding": {"x": {"datum": 24.51}, "y": {"datum": 4047}, "text": {"field": "event"}}},
      {"data": {"name": "titles"}, "transform": [{"filter": "datum.panel === 'E2N'"}],
       "mark": {"type": "text", "align": "left", "baseline": "middle", "font": "Liberation Serif", "fontWeight": "normal", "fontSize": 55, "color": "#000000", "dx": 7},
       "encoding": {"x": {"datum": 24.51}, "y": {"datum": 4047}, "text": {"field": "cond"}}}
    ]}
   ]}
  ]},
  {"spacing": 47, "vconcat": [
   {"bounds": "flush", "spacing": 248, "hconcat": [
    {"width": 955, "height": 558, "layer": [
      {"data": {"name": "profiles"}, "transform": [{"filter": "datum.panel === 'E3S'"}],
       "mark": {"type": "line", "strokeCap": "round", "strokeJoin": "round"},
       "encoding": {
         "x": {"field": "conc", "type": "quantitative", "scale": {"domain": [0, 50], "nice": false, "zero": false}, "axis": {"title": null, "tickCount": 200, "labelOverlap": false, "format": "d", "values": [0,2,4,6,8,10,12,14,16,18,20,22,24,26,28,30,32,34,36,38,40,42,44,46,48,50], "labelExpr": "datum.value % 10 === 0 ? datum.label : ''"}},
         "y": {"field": "alt", "type": "quantitative", "scale": {"domain": [2000, 4500], "nice": false, "zero": false}, "axis": {"title": null, "tickCount": 200, "labelOverlap": false, "format": "d", "values": [2000,2100,2200,2300,2400,2500,2600,2700,2800,2900,3000,3100,3200,3300,3400,3500,3600,3700,3800,3900,4000,4100,4200,4300,4400,4500], "labelExpr": "datum.value % 500 === 0 ? datum.label : ''"}},
         "color": {"field": "series", "type": "nominal", "scale": {"domain": ["diff+agg+rim", "diff+rim"], "range": ["#0070C0", "#ED7D31"]}, "legend": {"title": null}},
         "strokeDash": {"field": "series", "type": "nominal", "scale": {"domain": ["diff+agg+rim", "diff+rim"], "range": [[1, 0], [28, 35]]}, "legend": {"title": null}},
         "strokeWidth": {"field": "series", "type": "nominal", "scale": {"type": "point", "padding": 0, "domain": ["diff+agg+rim", "diff+rim"], "range": [5, 10]}, "legend": {"title": null}},
         "order": {"value": null}
       }},
      {"data": {"name": "titles"}, "transform": [{"filter": "datum.panel === 'E3S'"}],
       "mark": {"type": "rect", "fill": "white", "stroke": "#3a3a3a", "strokeWidth": 3},
       "encoding": {"x": {"datum": 11.94}, "x2": {"datum": 38.4}, "y": {"datum": 4544}, "y2": {"datum": 4290}}},
      {"data": {"name": "titles"}, "transform": [{"filter": "datum.panel === 'E3S'"}],
       "mark": {"type": "text", "align": "right", "baseline": "middle", "font": "Liberation Serif", "fontWeight": "bold", "fontSize": 50, "color": "#000000", "dx": -7},
       "encoding": {"x": {"datum": 22.77}, "y": {"datum": 4417}, "text": {"field": "event"}}},
      {"data": {"name": "titles"}, "transform": [{"filter": "datum.panel === 'E3S'"}],
       "mark": {"type": "text", "align": "left", "baseline": "middle", "font": "Liberation Serif", "fontWeight": "normal", "fontSize": 50, "color": "#000000", "dx": 7},
       "encoding": {"x": {"datum": 22.77}, "y": {"datum": 4417}, "text": {"field": "cond"}}}
    ]},
    {"width": 938, "height": 560, "layer": [
      {"data": {"name": "profiles"}, "transform": [{"filter": "datum.panel === 'E3N'"}],
       "mark": {"type": "line", "strokeCap": "round", "strokeJoin": "round"},
       "encoding": {
         "x": {"field": "conc", "type": "quantitative", "scale": {"domain": [0, 50], "nice": false, "zero": false}, "axis": {"title": null, "tickCount": 200, "labelOverlap": false, "format": "d", "values": [0,2,4,6,8,10,12,14,16,18,20,22,24,26,28,30,32,34,36,38,40,42,44,46,48,50], "labelExpr": "datum.value % 10 === 0 ? datum.label : ''"}},
         "y": {"field": "alt", "type": "quantitative", "scale": {"domain": [2000, 4500], "nice": false, "zero": false}, "axis": {"title": null, "tickCount": 200, "labelOverlap": false, "format": "d", "values": [2000,2100,2200,2300,2400,2500,2600,2700,2800,2900,3000,3100,3200,3300,3400,3500,3600,3700,3800,3900,4000,4100,4200,4300,4400,4500], "labelExpr": "datum.value % 500 === 0 ? datum.label : ''"}},
         "color": {"field": "series", "type": "nominal", "scale": {"domain": ["diff+agg+rim", "diff+rim"], "range": ["#0070C0", "#ED7D31"]}, "legend": {"title": null}},
         "strokeDash": {"field": "series", "type": "nominal", "scale": {"domain": ["diff+agg+rim", "diff+rim"], "range": [[1, 0], [28, 35]]}, "legend": {"title": null}},
         "strokeWidth": {"field": "series", "type": "nominal", "scale": {"type": "point", "padding": 0, "domain": ["diff+agg+rim", "diff+rim"], "range": [5, 10]}, "legend": {"title": null}},
         "order": {"value": null}
       }},
      {"data": {"name": "titles"}, "transform": [{"filter": "datum.panel === 'E3N'"}],
       "mark": {"type": "rect", "fill": "white", "stroke": "#3a3a3a", "strokeWidth": 3},
       "encoding": {"x": {"datum": 7.3}, "x2": {"datum": 38.3}, "y": {"datum": 4533}, "y2": {"datum": 4280}}},
      {"data": {"name": "titles"}, "transform": [{"filter": "datum.panel === 'E3N'"}],
       "mark": {"type": "text", "align": "right", "baseline": "middle", "font": "Liberation Serif", "fontWeight": "bold", "fontSize": 50, "color": "#000000", "dx": -7},
       "encoding": {"x": {"datum": 18.39}, "y": {"datum": 4407}, "text": {"field": "event"}}},
      {"data": {"name": "titles"}, "transform": [{"filter": "datum.panel === 'E3N'"}],
       "mark": {"type": "text", "align": "left", "baseline": "middle", "font": "Liberation Serif", "fontWeight": "normal", "fontSize": 50, "color": "#000000", "dx": 7},
       "encoding": {"x": {"datum": 18.39}, "y": {"datum": 4407}, "text": {"field": "cond"}}}
    ]}
   ]},
   {"bounds": "flush", "spacing": 162, "hconcat": [
    {"width": 1041, "height": 506, "layer": [
      {"data": {"name": "profiles"}, "transform": [{"filter": "datum.panel === 'E4S'"}],
       "mark": {"type": "line", "strokeCap": "round", "strokeJoin": "round"},
       "encoding": {
         "x": {"field": "conc", "type": "quantitative", "scale": {"domain": [0, 50], "nice": false, "zero": false}, "axis": {"title": null, "tickCount": 200, "labelOverlap": false, "format": "d", "values": [0,2,4,6,8,10,12,14,16,18,20,22,24,26,28,30,32,34,36,38,40,42,44,46,48,50], "labelExpr": "datum.value % 10 === 0 ? datum.label : ''"}},
         "y": {"field": "alt", "type": "quantitative", "scale": {"domain": [2000, 4500], "nice": false, "zero": false}, "axis": {"title": null, "tickCount": 200, "labelOverlap": false, "format": "d", "values": [2000,2100,2200,2300,2400,2500,2600,2700,2800,2900,3000,3100,3200,3300,3400,3500,3600,3700,3800,3900,4000,4100,4200,4300,4400,4500], "labelExpr": "datum.value % 500 === 0 ? datum.label : ''"}},
         "color": {"field": "series", "type": "nominal", "scale": {"domain": ["diff+agg+rim", "diff+rim"], "range": ["#0070C0", "#ED7D31"]}, "legend": {"title": null}},
         "strokeDash": {"field": "series", "type": "nominal", "scale": {"domain": ["diff+agg+rim", "diff+rim"], "range": [[1, 0], [28, 35]]}, "legend": {"title": null}},
         "strokeWidth": {"field": "series", "type": "nominal", "scale": {"type": "point", "padding": 0, "domain": ["diff+agg+rim", "diff+rim"], "range": [5, 10]}, "legend": {"title": null}},
         "order": {"value": null}
       }},
      {"data": {"name": "titles"}, "transform": [{"filter": "datum.panel === 'E4S'"}],
       "mark": {"type": "rect", "fill": "white", "stroke": "#3a3a3a", "strokeWidth": 3},
       "encoding": {"x": {"datum": 10.95}, "x2": {"datum": 35.35}, "y": {"datum": 4528}, "y2": {"datum": 4248}}},
      {"data": {"name": "titles"}, "transform": [{"filter": "datum.panel === 'E4S'"}],
       "mark": {"type": "text", "align": "right", "baseline": "middle", "font": "Liberation Serif", "fontWeight": "bold", "fontSize": 50, "color": "#000000", "dx": -7},
       "encoding": {"x": {"datum": 20.95}, "y": {"datum": 4388}, "text": {"field": "event"}}},
      {"data": {"name": "titles"}, "transform": [{"filter": "datum.panel === 'E4S'"}],
       "mark": {"type": "text", "align": "left", "baseline": "middle", "font": "Liberation Serif", "fontWeight": "normal", "fontSize": 50, "color": "#000000", "dx": 7},
       "encoding": {"x": {"datum": 20.95}, "y": {"datum": 4388}, "text": {"field": "cond"}}}
    ]},
    {"width": 938, "height": 512, "layer": [
      {"data": {"name": "profiles"}, "transform": [{"filter": "datum.panel === 'E4N'"}],
       "mark": {"type": "line", "strokeCap": "round", "strokeJoin": "round"},
       "encoding": {
         "x": {"field": "conc", "type": "quantitative", "scale": {"domain": [0, 50], "nice": false, "zero": false}, "axis": {"title": null, "tickCount": 200, "labelOverlap": false, "format": "d", "values": [0,2,4,6,8,10,12,14,16,18,20,22,24,26,28,30,32,34,36,38,40,42,44,46,48,50], "labelExpr": "datum.value % 10 === 0 ? datum.label : ''"}},
         "y": {"field": "alt", "type": "quantitative", "scale": {"domain": [2000, 4500], "nice": false, "zero": false}, "axis": {"title": null, "tickCount": 200, "labelOverlap": false, "format": "d", "values": [2000,2100,2200,2300,2400,2500,2600,2700,2800,2900,3000,3100,3200,3300,3400,3500,3600,3700,3800,3900,4000,4100,4200,4300,4400,4500], "labelExpr": "datum.value % 500 === 0 ? datum.label : ''"}},
         "color": {"field": "series", "type": "nominal", "scale": {"domain": ["diff+agg+rim", "diff+rim"], "range": ["#0070C0", "#ED7D31"]}, "legend": {"title": null}},
         "strokeDash": {"field": "series", "type": "nominal", "scale": {"domain": ["diff+agg+rim", "diff+rim"], "range": [[1, 0], [28, 35]]}, "legend": {"title": null}},
         "strokeWidth": {"field": "series", "type": "nominal", "scale": {"type": "point", "padding": 0, "domain": ["diff+agg+rim", "diff+rim"], "range": [5, 10]}, "legend": {"title": null}},
         "order": {"value": null}
       }},
      {"data": {"name": "titles"}, "transform": [{"filter": "datum.panel === 'E4N'"}],
       "mark": {"type": "rect", "fill": "white", "stroke": "#3a3a3a", "strokeWidth": 3},
       "encoding": {"x": {"datum": 8.74}, "x2": {"datum": 39.87}, "y": {"datum": 4564}, "y2": {"datum": 4280}}},
      {"data": {"name": "titles"}, "transform": [{"filter": "datum.panel === 'E4N'"}],
       "mark": {"type": "text", "align": "right", "baseline": "middle", "font": "Liberation Serif", "fontWeight": "bold", "fontSize": 50, "color": "#000000", "dx": -7},
       "encoding": {"x": {"datum": 19.89}, "y": {"datum": 4422}, "text": {"field": "event"}}},
      {"data": {"name": "titles"}, "transform": [{"filter": "datum.panel === 'E4N'"}],
       "mark": {"type": "text", "align": "left", "baseline": "middle", "font": "Liberation Serif", "fontWeight": "normal", "fontSize": 50, "color": "#000000", "dx": 7},
       "encoding": {"x": {"datum": 19.89}, "y": {"datum": 4422}, "text": {"field": "cond"}}}
    ]}
   ]}
  ]}
 ]},
 {"bounds": "flush", "spacing": 195, "hconcat": [
    {"width": 966, "height": 756, "layer": [
      {"data": {"name": "profiles"}, "transform": [{"filter": "datum.panel === 'E5S'"}],
       "mark": {"type": "line", "strokeCap": "round", "strokeJoin": "round"},
       "encoding": {
         "x": {"field": "conc", "type": "quantitative", "scale": {"domain": [0, 50], "nice": false, "zero": false}, "axis": {"title": "Number Concentration (L⁻¹)", "titleFont": "Liberation Serif", "titleFontWeight": "bold", "titleFontSize": 88, "titleColor": "#000000", "titleAlign": "center", "titleBaseline": "alphabetic", "titleX": 1027, "titleY": 214, "tickCount": 200, "labelOverlap": false, "format": "d", "values": [0,2,4,6,8,10,12,14,16,18,20,22,24,26,28,30,32,34,36,38,40,42,44,46,48,50], "labelExpr": "datum.value % 10 === 0 ? datum.label : ''"}},
         "y": {"field": "alt", "type": "quantitative", "scale": {"domain": [2000, 4500], "nice": false, "zero": false}, "axis": {"title": null, "tickCount": 200, "labelOverlap": false, "format": "d", "values": [2000,2100,2200,2300,2400,2500,2600,2700,2800,2900,3000,3100,3200,3300,3400,3500,3600,3700,3800,3900,4000,4100,4200,4300,4400,4500], "labelExpr": "datum.value % 500 === 0 ? datum.label : ''"}},
         "color": {"field": "series", "type": "nominal", "scale": {"domain": ["diff+agg+rim", "diff+rim"], "range": ["#0070C0", "#ED7D31"]}, "legend": {"title": null}},
         "strokeDash": {"field": "series", "type": "nominal", "scale": {"domain": ["diff+agg+rim", "diff+rim"], "range": [[1, 0], [28, 35]]}, "legend": {"title": null}},
         "strokeWidth": {"field": "series", "type": "nominal", "scale": {"type": "point", "padding": 0, "domain": ["diff+agg+rim", "diff+rim"], "range": [5, 10]}, "legend": {"title": null}},
         "order": {"value": null}
       }},
      {"data": {"name": "titles"}, "transform": [{"filter": "datum.panel === 'E5S'"}],
       "mark": {"type": "rect", "fill": "white", "stroke": "#3a3a3a", "strokeWidth": 3},
       "encoding": {"x": {"datum": 8.44}, "x2": {"datum": 37.2}, "y": {"datum": 4562}, "y2": {"datum": 4362}}},
      {"data": {"name": "titles"}, "transform": [{"filter": "datum.panel === 'E5S'"}],
       "mark": {"type": "text", "align": "right", "baseline": "middle", "font": "Liberation Serif", "fontWeight": "bold", "fontSize": 52, "color": "#000000", "dx": -7},
       "encoding": {"x": {"datum": 20.35}, "y": {"datum": 4462}, "text": {"field": "event"}}},
      {"data": {"name": "titles"}, "transform": [{"filter": "datum.panel === 'E5S'"}],
       "mark": {"type": "text", "align": "left", "baseline": "middle", "font": "Liberation Serif", "fontWeight": "normal", "fontSize": 52, "color": "#000000", "dx": 7},
       "encoding": {"x": {"datum": 20.35}, "y": {"datum": 4462}, "text": {"field": "cond"}}}
    ]},
    {"width": 1005, "height": 778, "layer": [
      {"data": {"name": "profiles"}, "transform": [{"filter": "datum.panel === 'E5N'"}],
       "mark": {"type": "line", "strokeCap": "round", "strokeJoin": "round"},
       "encoding": {
         "x": {"field": "conc", "type": "quantitative", "scale": {"domain": [0, 50], "nice": false, "zero": false}, "axis": {"title": null, "tickCount": 200, "labelOverlap": false, "format": "d", "values": [0,2,4,6,8,10,12,14,16,18,20,22,24,26,28,30,32,34,36,38,40,42,44,46,48,50], "labelExpr": "datum.value % 10 === 0 ? datum.label : ''"}},
         "y": {"field": "alt", "type": "quantitative", "scale": {"domain": [2000, 4500], "nice": false, "zero": false}, "axis": {"title": null, "tickCount": 200, "labelOverlap": false, "format": "d", "values": [2000,2100,2200,2300,2400,2500,2600,2700,2800,2900,3000,3100,3200,3300,3400,3500,3600,3700,3800,3900,4000,4100,4200,4300,4400,4500], "labelExpr": "datum.value % 500 === 0 ? datum.label : ''"}},
         "color": {"field": "series", "type": "nominal", "scale": {"domain": ["diff+agg+rim", "diff+rim"], "range": ["#0070C0", "#ED7D31"]}, "legend": {"title": null}},
         "strokeDash": {"field": "series", "type": "nominal", "scale": {"domain": ["diff+agg+rim", "diff+rim"], "range": [[1, 0], [28, 35]]}, "legend": {"title": null}},
         "strokeWidth": {"field": "series", "type": "nominal", "scale": {"type": "point", "padding": 0, "domain": ["diff+agg+rim", "diff+rim"], "range": [5, 10]}, "legend": {"title": null}},
         "order": {"value": null}
       }},
      {"data": {"name": "titles"}, "transform": [{"filter": "datum.panel === 'E5N'"}],
       "mark": {"type": "rect", "fill": "white", "stroke": "#3a3a3a", "strokeWidth": 3},
       "encoding": {"x": {"datum": 7.06}, "x2": {"datum": 38.66}, "y": {"datum": 4558}, "y2": {"datum": 4363}}},
      {"data": {"name": "titles"}, "transform": [{"filter": "datum.panel === 'E5N'"}],
       "mark": {"type": "text", "align": "right", "baseline": "middle", "font": "Liberation Serif", "fontWeight": "bold", "fontSize": 52, "color": "#000000", "dx": -7},
       "encoding": {"x": {"datum": 18.58}, "y": {"datum": 4460}, "text": {"field": "event"}}},
      {"data": {"name": "titles"}, "transform": [{"filter": "datum.panel === 'E5N'"}],
       "mark": {"type": "text", "align": "left", "baseline": "middle", "font": "Liberation Serif", "fontWeight": "normal", "fontSize": 52, "color": "#000000", "dx": 7},
       "encoding": {"x": {"datum": 18.58}, "y": {"datum": 4460}, "text": {"field": "cond"}}}
    ]}
 ]}
]
}
